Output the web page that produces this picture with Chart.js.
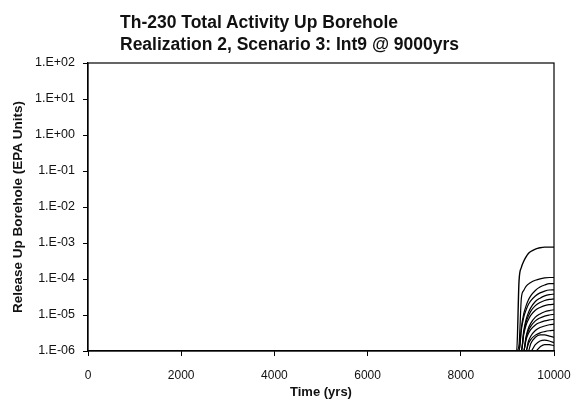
<!DOCTYPE html>
<html>
<head>
<meta charset="utf-8">
<script src="https://cdn.jsdelivr.net/npm/chart.js@4/dist/chart.umd.min.js"></script>
<style>
html,body{margin:0;padding:0;background:#fff;}
#wrap{position:relative;width:580px;height:412px;}
#title{position:absolute;left:120px;top:10.6px;font:bold 17.5px "Liberation Sans",Arial,sans-serif;line-height:22px;color:#111;white-space:nowrap;}
canvas{position:absolute;left:0;top:0;}
</style>
</head>
<body>
<div id="wrap">
<canvas id="c" width="580" height="412"></canvas>
<div id="title">Th-230 Total Activity Up Borehole<br>Realization 2, Scenario 3: Int9 @ 9000yrs</div>
</div>
<script>
const times = [0, 9200, 9250, 9300, 9350, 9400, 9450, 9500, 9600, 9700, 9800, 9900, 10000];
const s1  = [1e-6,1e-6,9e-5,2.1e-4,3.1e-4,4.1e-4,5.1e-4,5.8e-4,6.8e-4,7.4e-4,7.7e-4,7.7e-4,7.7e-4];
const s2  = [1e-6,1e-6,1.5e-6,3e-5,4.8e-5,6.2e-5,7.2e-5,8e-5,9.2e-5,1.01e-4,1.07e-4,1.1e-4,1.1e-4];
const s3  = [1e-6,1e-6,1e-6,4.5e-6,1.07e-5,1.79e-5,2.63e-5,3.41e-5,4.81e-5,5.97e-5,6.8e-5,7.4e-5,7.4e-5];
const s4  = [1e-6,1e-6,1e-6,3.9e-6,8.6e-6,1.37e-5,1.95e-5,2.47e-5,3.38e-5,4.11e-5,4.62e-5,4.95e-5,5e-5];
const s5  = [1e-6,1e-6,1e-6,1e-6,3.6e-6,7.4e-6,1.15e-5,1.58e-5,2.37e-5,2.94e-5,3.41e-5,3.7e-5,3.8e-5];
const s6  = [1e-6,1e-6,1e-6,1e-6,3.2e-6,6.25e-6,9.3e-6,1.26e-5,1.82e-5,2.22e-5,2.53e-5,2.72e-5,2.8e-5];
const s7  = [1e-6,1e-6,1e-6,1e-6,2.85e-6,5.2e-6,7.4e-6,9.75e-6,1.36e-5,1.62e-5,1.83e-5,1.94e-5,2e-5];
const s8  = [1e-6,1e-6,1e-6,1e-6,1e-6,2.5e-6,4.27e-6,5.86e-6,8.7e-6,1.07e-5,1.23e-5,1.33e-5,1.4e-5];
const s9  = [1e-6,1e-6,1e-6,1e-6,1e-6,2.28e-6,3.64e-6,4.83e-6,6.87e-6,8.3e-6,9.33e-6,1.0e-5,1.05e-5];
const s10 = [1e-6,1e-6,1e-6,1e-6,1e-6,2.03e-6,3.05e-6,3.9e-6,5.3e-6,6.2e-6,6.9e-6,7.3e-6,7.6e-6];
const s11 = [1e-6,1e-6,1e-6,1e-6,1e-6,1e-6,1.83e-6,2.58e-6,3.7e-6,4.48e-6,4.96e-6,5.35e-6,5.55e-6];
const s12 = [1e-6,1e-6,1e-6,1e-6,1e-6,1e-6,1.6e-6,2.08e-6,2.76e-6,3.2e-6,3.46e-6,3.65e-6,3.75e-6];
const s13 = [1e-6,1e-6,1e-6,1e-6,1e-6,1e-6,1e-6,1.6e-6,2.4e-6,2.8e-6,2.8e-6,2.6e-6,2.4e-6];
const s14 = [1e-6,1e-6,1e-6,1e-6,1e-6,1e-6,1e-6,1e-6,1.5e-6,1.9e-6,2.0e-6,1.9e-6,1.7e-6];
const s15 = [1e-6,1e-6,1e-6,1e-6,1e-6,1e-6,1e-6,1e-6,1e-6,1.3e-6,1.5e-6,1.5e-6,1.4e-6];
const seriesList = [s1,s2,s3,s4,s5,s6,s7,s8,s9,s10,s11,s12,s13,s14,s15];

const yTicks = [1e-6,1e-5,1e-4,1e-3,1e-2,1e-1,1e0,1e1,1e2];
const yTickLabels = ["1.E-06","1.E-05","1.E-04","1.E-03","1.E-02","1.E-01","1.E+00","1.E+01","1.E+02"];
const xTicks = [0,2000,4000,6000,8000,10000];

const datasets = seriesList.map((s,i)=>({
  data: times.map((t,j)=>({x:t,y:s[j]})),
  borderColor:'#000',
  borderWidth: i===0 ? 1.4 : 1.2,
  pointRadius:0,
  fill:false,
  cubicInterpolationMode:'monotone'
}));

const frame = {
  id:'frame',
  afterDatasetsDraw(chart){
    const {ctx, chartArea:a} = chart;
    ctx.save();
    ctx.strokeStyle='#000';
    ctx.lineWidth=1.2;
    ctx.strokeRect(a.left,a.top,a.right-a.left,a.bottom-a.top);
    ctx.restore();
  }
};

const fam = '"Liberation Sans", Arial, sans-serif';
new Chart(document.getElementById('c'),{
  type:'line',
  data:{datasets},
  plugins:[frame],
  options:{
    responsive:false,
    animation:false,
    layout:{padding:{top:63,right:26,left:0,bottom:0}},
    plugins:{legend:{display:false},tooltip:{enabled:false},title:{display:false}},
    scales:{
      x:{
        type:'linear',min:0,max:10000,
        afterBuildTicks(scale){scale.ticks = xTicks.map(v=>({value:v}));},
        afterFit(scale){scale.height=61; scale.paddingLeft=0; scale.paddingRight=0;},
        grid:{display:true,drawOnChartArea:false,drawTicks:true,tickLength:5,color:'#000'},
        border:{display:true,color:'#000',width:1.2},
        ticks:{color:'#111',font:{family:fam,size:12},padding:12,maxRotation:0,
          callback:(v)=>String(v)},
        title:{display:true,text:'Time (yrs)',color:'#111',font:{family:fam,size:13,weight:'bold'},padding:{top:0,bottom:12}}
      },
      y:{
        type:'logarithmic',min:1e-6,max:1e2,
        afterBuildTicks(scale){scale.ticks = yTicks.map(v=>({value:v}));},
        afterFit(scale){scale.width=88; scale.paddingTop=0; scale.paddingBottom=0;},
        grid:{display:true,drawOnChartArea:false,drawTicks:true,tickLength:5,color:'#000'},
        border:{display:true,color:'#000',width:1.2},
        ticks:{color:'#111',font:{family:fam,size:12.5},padding:8,autoSkip:false,
          callback:(v)=>{const k=yTicks.findIndex(t=>Math.abs(Math.log10(t)-Math.log10(v))<1e-6);return k>=0?yTickLabels[k]:'';}},
        title:{display:true,text:'Release Up Borehole (EPA Units)',color:'#111',font:{family:fam,size:13.5,weight:'bold'},padding:{top:10,bottom:0}}
      }
    }
  }
});
</script>
</body>
</html>
